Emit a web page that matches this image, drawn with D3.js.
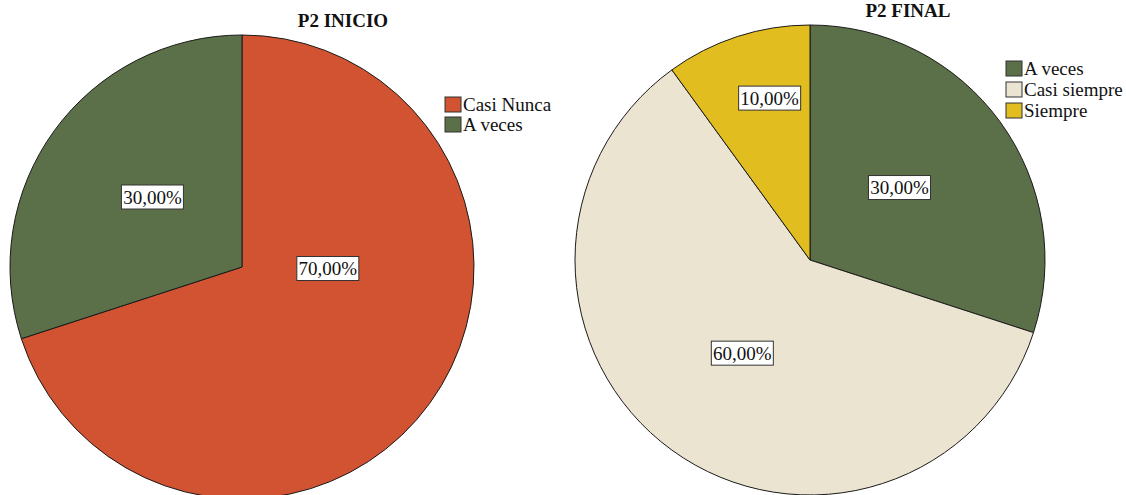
<!DOCTYPE html>
<html>
<head>
<meta charset="utf-8">
<script src="https://cdn.jsdelivr.net/npm/d3@7/dist/d3.min.js"></script>
<style>
  html, body { margin: 0; padding: 0; background: #fff; }
  svg { display: block; }
  text { font-family: "Liberation Serif", "Times New Roman", serif; }
</style>
</head>
<body>
<svg id="chart" width="1126" height="495"></svg>
<script>
// Pie P2 INICIO
const inicioCategories = ["Casi Nunca", "A veces"];
const inicioValues = [70, 30];
// Pie P2 FINAL
const finalCategories = ["A veces", "Casi siempre", "Siempre"];
const finalValues = [30, 60, 10];

const colorByCategory = {
  "Casi Nunca": "#D15332",
  "A veces": "#5B7049",
  "Casi siempre": "#EAE4D1",
  "Siempre": "#E1BD1F"
};

// Label anchors: angle (degrees clockwise from 12 o'clock) and radius fraction
const inicioLabelPlacement = [
  { angle: 91, radius: 0.37 },
  { angle: 308, radius: 0.49 }
];
const finalLabelPlacement = [
  { angle: 51, radius: 0.49 },
  { angle: 216, radius: 0.49 },
  { angle: 346, radius: 0.71 }
];

const svg = d3.select("#chart");
const fmt = v => d3.format(".2f")(v).replace(".", ",") + "%";

function drawPie(cfg) {
  const g = svg.append("g").attr("transform", `translate(${cfg.cx},${cfg.cy})`);
  const total = d3.sum(cfg.values);
  const data = cfg.categories.map((c, i) => ({ category: c, value: cfg.values[i], place: cfg.labels[i] }));

  const pie = d3.pie().value(d => d.value).sort(null);
  const arc = d3.arc().innerRadius(0).outerRadius(cfg.r);
  const arcs = pie(data);

  g.selectAll("path.slice")
    .data(arcs)
    .join("path")
    .attr("class", "slice")
    .attr("d", arc)
    .attr("fill", d => colorByCategory[d.data.category])
    .attr("stroke", "#1a1a1a")
    .attr("stroke-width", 1);

  const labels = g.selectAll("g.lbl")
    .data(arcs)
    .join("g")
    .attr("class", "lbl")
    .attr("transform", d => {
      const a = d.data.place.angle * Math.PI / 180;
      const rr = d.data.place.radius * cfg.r;
      return `translate(${rr * Math.sin(a)},${-rr * Math.cos(a)})`;
    });

  labels.append("rect")
    .attr("x", -31).attr("y", -12)
    .attr("width", 62).attr("height", 24)
    .attr("fill", "#fff")
    .attr("stroke", "#333")
    .attr("stroke-width", 1);

  labels.append("text")
    .attr("text-anchor", "middle")
    .attr("dy", "0.36em")
    .style("font-size", "19px")
    .attr("fill", "#111")
    .text(d => fmt(d.data.value / total * 100));

  svg.append("text")
    .attr("x", cfg.titleX).attr("y", cfg.titleY)
    .attr("text-anchor", "middle")
    .style("font-size", "19px")
    .style("font-weight", "bold")
    .attr("fill", "#111")
    .text(cfg.title);

  const legend = svg.append("g")
    .attr("transform", `translate(${cfg.legendX},${cfg.legendY})`);
  const items = legend.selectAll("g.item")
    .data(cfg.categories)
    .join("g")
    .attr("class", "item")
    .attr("transform", (d, i) => `translate(0,${i * cfg.legendStep})`);
  items.append("rect")
    .attr("width", 16).attr("height", 15)
    .attr("fill", d => colorByCategory[d])
    .attr("stroke", "#333")
    .attr("stroke-width", 1);
  items.append("text")
    .attr("x", 18).attr("y", 14)
    .style("font-size", "19px")
    .attr("fill", "#111")
    .text(d => d);
}

drawPie({
  title: "P2 INICIO", categories: inicioCategories, values: inicioValues,
  labels: inicioLabelPlacement,
  cx: 242, cy: 267, r: 232,
  titleX: 343, titleY: 27,
  legendX: 445, legendY: 97, legendStep: 20
});

drawPie({
  title: "P2 FINAL", categories: finalCategories, values: finalValues,
  labels: finalLabelPlacement,
  cx: 810, cy: 260, r: 235,
  titleX: 908, titleY: 17,
  legendX: 1006, legendY: 61, legendStep: 21
});
</script>
</body>
</html>
